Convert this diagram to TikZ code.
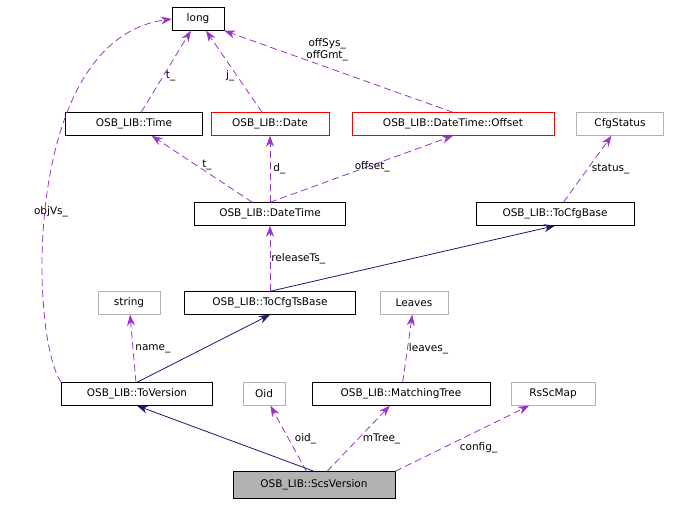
\documentclass[tikz,border=0pt]{standalone}
\usepackage{fontspec}
\setmainfont{DejaVu Sans}
\usetikzlibrary{arrows.meta}
\usetikzlibrary{positioning}
\definecolor{EdgePurple}{HTML}{9A32CD}
\definecolor{EdgeNavy}{HTML}{191970}
\tikzset{
  cls/.style={draw=black,fill=white,inner sep=0pt,minimum height=23pt,font=\fontsize{10.5}{12}\selectfont},
  redcls/.style={cls,draw=red},
  ext/.style={cls,draw=black!30},
  use/.style={draw=EdgePurple,line width=0.8pt,dash pattern=on 7pt off 4pt,-{Stealth[length=11pt,width=8pt]}},
  inh/.style={draw=EdgeNavy,line width=0.8pt,-{Stealth[length=11pt,width=8pt]}},
  lbl/.style={font=\fontsize{10.5}{12}\selectfont,inner sep=0pt,align=center}
}
\begin{document}
\begin{tikzpicture}[x=1pt,y=-1pt]
  \useasboundingbox (0,0) rectangle (675,504);

  % classes
  \node[cls,minimum width=52pt] (long) at (198,19) {long};
  \node[cls,minimum width=137pt] (time) at (134,124) {OSB\_LIB::Time};
  \node[redcls,minimum width=118pt] (date) at (270,124) {OSB\_LIB::Date};
  \node[redcls,minimum width=202pt] (offset) at (453,124) {OSB\_LIB::DateTime::Offset};
  \node[ext,minimum width=87pt] (cfgstatus) at (620,124) {CfgStatus};
  \node[cls,minimum width=151pt] (datetime) at (270,214) {OSB\_LIB::DateTime};
  \node[cls,minimum width=158pt] (tocfgbase) at (555,214) {OSB\_LIB::ToCfgBase};
  \node[ext,minimum width=62pt] (string) at (129,303) {string};
  \node[cls,minimum width=171pt] (tocfgts) at (270,303) {OSB\_LIB::ToCfgTsBase};
  \node[ext,minimum width=68pt] (leaves) at (414,303) {Leaves};
  \node[cls,minimum width=151pt] (toversion) at (137,394) {OSB\_LIB::ToVersion};
  \node[ext,minimum width=42pt] (oid) at (264,394) {Oid};
  \node[cls,minimum width=178pt] (mtree) at (401,394) {OSB\_LIB::MatchingTree};
  \node[ext,minimum width=84pt] (rsscmap) at (553,394) {RsScMap};
  \node[cls,fill=black!30,minimum width=162pt,minimum height=27pt] (scs) at (314,485) {OSB\_LIB::ScsVersion};

  % usage links
  \draw[use] (time) -- (long) node[lbl,pos=0.45,right=2pt] {t\_};
  \draw[use] (date) -- (long) node[lbl,pos=0.45,left=2pt] {j\_};
  \draw[use] (offset.north) -- (long.south east) node[lbl,pos=0.55,above=6pt] {offSys\_\\offGmt\_};
  \draw[use] (toversion.north west) .. controls (30,340) and (20,40) .. (long.west);
  \node[lbl] (objvs) at (51,212) {objVs\_};
  \draw[use] (datetime) -- (time) node[lbl,pos=0.45,above=2pt] {t\_};
  \draw[use] (datetime) -- (date) node[lbl,pos=0.5,right=3pt] {d\_};
  \draw[use] (datetime.north) -- (offset.south) node[lbl,pos=0.45,above right=0pt and 2pt] {offset\_};
  \draw[use] (tocfgbase) -- (cfgstatus) node[lbl,pos=0.5,right=4pt] {status\_};
  \draw[use] (tocfgts) -- (datetime) node[lbl,pos=0.5,right=1pt] {releaseTs\_};
  \draw[use] (toversion) -- (string) node[lbl,pos=0.5,right=2pt] {name\_};
  \draw[use] (mtree) -- (leaves) node[lbl,pos=0.5,right=1pt] {leaves\_};
  \draw[use] (scs) -- (oid) node[lbl,pos=0.5,right=6pt] {oid\_};
  \draw[use] (scs) -- (mtree) node[lbl,pos=0.5,right=4pt] {mTree\_};
  \draw[use] (scs.north east) -- (rsscmap) node[lbl,pos=0.45,below right=0pt and 4pt] {config\_};

  % inheritance
  \draw[inh] (tocfgts.north) -- (tocfgbase.south);
  \draw[inh] (toversion.north) -- (tocfgts.south);
  \draw[inh] (scs.north) -- (toversion.south);
\end{tikzpicture}
\end{document}
